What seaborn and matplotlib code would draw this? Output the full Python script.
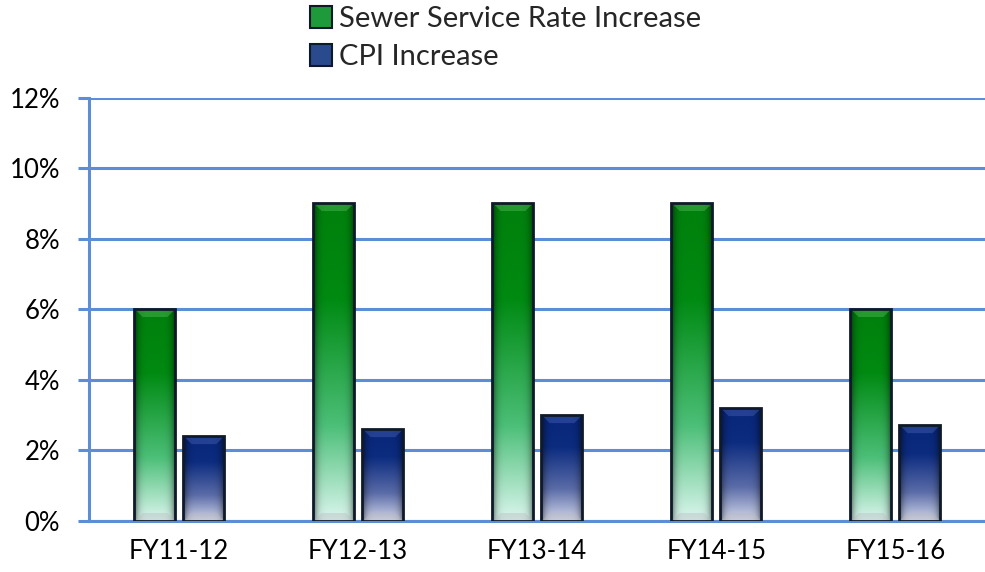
import matplotlib
matplotlib.use("Agg")
import matplotlib.pyplot as plt
import matplotlib.patches as mpatches
from matplotlib.colors import to_rgb
from matplotlib.ticker import FixedLocator, PercentFormatter
import seaborn as sns
import numpy as np
import pandas as pd

# --- data ---
years = ["FY11-12", "FY12-13", "FY13-14", "FY14-15", "FY15-16"]
sewer_rate = [6.0, 9.0, 9.0, 9.0, 6.0]
cpi = [2.4, 2.6, 3.0, 3.2, 2.7]
series_names = ["Sewer Service Rate Increase", "CPI Increase"]

df = pd.DataFrame({
    "year": years * 2,
    "value": sewer_rate + cpi,
    "series": [series_names[0]] * len(years) + [series_names[1]] * len(years),
})

GRID = "#5b8ed6"
EDGE = "#0e1a2a"
# colour stops (position from top, colour) for each series' gradient
gradients = {
    series_names[0]: [(0.0, "#00800c"), (0.3, "#008a12"), (0.7, "#4cbf78"), (1.0, "#dcf6ef")],
    series_names[1]: [(0.0, "#08267a"), (0.3, "#0c2c80"), (0.7, "#5b6ca8"), (1.0, "#d2d7ea")],
}
# tint of the lighter chevron at the top of each bar
bevel_tint = {series_names[0]: (0.6, 0.9, 0.6), series_names[1]: (0.45, 0.55, 0.85)}
legend_colors = {series_names[0]: "#1f9a3a", series_names[1]: "#2a4a8e"}

sns.set_style("white")
plt.rcParams["font.family"] = ["Lato", "DejaVu Sans"]

fig = plt.figure(figsize=(9.85, 5.72), dpi=100)
ax = fig.add_axes([0.0907, 0.0897, 0.9093, 0.7398])

sns.barplot(data=df, x="year", y="value", hue="series", ax=ax,
            palette=legend_colors, width=0.547, gap=0.163,
            legend=False, zorder=3)


def bar_image(stops, tint, rows, cols=41, bevel=8):
    pos = np.array([p for p, _ in stops])
    cs = np.array([to_rgb(c) for _, c in stops])
    t = np.linspace(0, 1, rows)
    col = np.stack([np.interp(t, pos, cs[:, k]) for k in range(3)], axis=-1)
    img = np.repeat(col[:, None, :], cols, axis=1)
    # darker sides for a bevelled look
    x = np.abs(np.linspace(-1, 1, cols))
    img = img * (1 - 0.55 * x ** 5)[None, :, None]
    # lighter chevron at the top, greyish one at the bottom
    for r in range(min(bevel, rows // 2)):
        inner = slice(r + 1, cols - r - 1)
        img[r, inner] = img[r, inner] * 0.75 + 0.25 * np.array(tint)
        rb = rows - 1 - r
        img[rb, inner] = img[rb, inner] * 0.6 + 0.4 * np.array([0.72, 0.72, 0.74])
    return np.clip(img, 0, 1)


# paint gradients into each bar
n = len(years)
px_per_unit = 35.25
for i, patch in enumerate(ax.patches[:2 * n]):
    name = series_names[i // n]
    x0, y0 = patch.get_x(), patch.get_y()
    w, h = patch.get_width(), patch.get_height()
    img = bar_image(gradients[name], bevel_tint[name], max(int(h * px_per_unit), 20))
    im = ax.imshow(img, extent=[x0, x0 + w, y0, y0 + h], aspect="auto",
                   origin="upper", zorder=3.5, interpolation="bilinear")
    im.set_clip_path(patch)
    patch.set_facecolor("none")
    patch.set_edgecolor(EDGE)
    patch.set_linewidth(2.0)
    patch.set_zorder(4)

ax.set_xlim(-0.5, n - 0.5)
ax.set_ylim(0, 12)
ax.yaxis.set_major_locator(FixedLocator([0, 2, 4, 6, 8, 10, 12]))
ax.yaxis.set_major_formatter(PercentFormatter(decimals=0))
ax.set_xlabel("")
ax.set_ylabel("")

ax.grid(axis="y", color=GRID, linewidth=2.2, zorder=1)
ax.grid(axis="x", visible=False)
for side in ["top", "right"]:
    ax.spines[side].set_visible(False)
for side in ["left", "bottom"]:
    ax.spines[side].set_color(GRID)
    ax.spines[side].set_linewidth(2.2)
    ax.spines[side].set_zorder(2)

# category labels centred, ticks on the category boundaries
ax.set_xticks(range(n))
ax.set_xticklabels(years)
ax.set_xticks(np.arange(-0.5, n, 1.0), minor=True)
ax.tick_params(axis="x", which="major", length=0, pad=13, labelsize=18.5, labelcolor="black")
ax.tick_params(axis="x", which="minor", length=8, width=2.2, color=GRID, direction="out")
ax.tick_params(axis="y", length=8, width=2.2, color=GRID, direction="out",
               left=True, pad=13, labelsize=18.5, labelcolor="black")

handles = [mpatches.Patch(facecolor=legend_colors[s], edgecolor=EDGE, linewidth=1.5, label=s)
           for s in series_names]
fig.legend(handles=handles, loc="upper left", bbox_to_anchor=(0.300, 1.015),
           frameon=False, fontsize=21, handlelength=0.75, handleheight=0.75,
           handletextpad=0.25, labelspacing=0.42, borderaxespad=0.1)

fig.savefig("out.png", dpi=100)
plt.close(fig)
